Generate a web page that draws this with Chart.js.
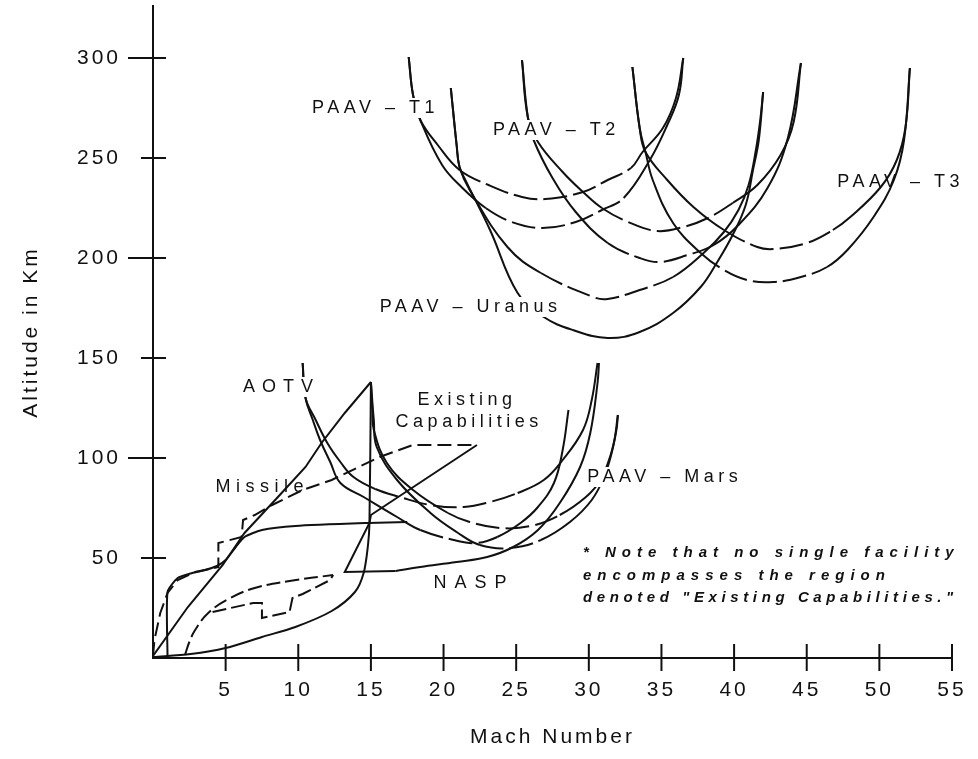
<!DOCTYPE html>
<html>
<head>
<meta charset="utf-8">
<script src="https://cdn.jsdelivr.net/npm/chart.js@4.4.0/dist/chart.umd.min.js"></script>
<style>
  html, body { margin: 0; padding: 0; background: #fff; }
  #wrap { width: 978px; height: 759px; }
</style>
</head>
<body>
<div id="wrap"><canvas id="flight_chart"></canvas></div>
<script>
// [Mach number, altitude km]
const paavT1a = [[17.6,300.5],[17.9,281.5],[18.4,269],[19.6,256.5],[21.1,244],[23.1,236.5],[25.4,230.5],[27.0,229.5],[29.6,233],[31.3,239],[32.9,245],[33.7,253],[35.1,265],[36.0,280],[36.5,300]];
const paavT1b = [[17.6,300.5],[17.9,281.5],[18.4,269],[19.9,246.5],[21.3,235],[22.9,225],[24.7,218],[26.8,215],[29.1,218],[30.9,224],[32.4,230],[34.2,249],[35.4,266.5],[36.2,281.5],[36.5,300]];
const paavT2a = [[25.4,299],[25.8,270.5],[26.5,258],[28.2,243],[29.6,233],[30.9,225],[32.7,218],[34.7,213.5],[36.5,215.5],[38.2,220],[39.9,227.5],[41.6,236.5],[43.2,251.5],[44.1,268],[44.6,297.5]];
const paavT2b = [[25.4,299],[25.8,270.5],[26.2,259],[27.5,240],[29.1,223],[31.3,207.5],[33.5,200],[34.9,198],[36.8,201.5],[38.6,206.5],[40.3,216.5],[42.3,235],[43.7,260],[44.6,297.5]];
const paavT3a = [[33.0,295.5],[33.5,265],[33.9,253],[35.4,239],[37.2,225.5],[39.3,214],[41.6,205.5],[42.7,204.5],[45.0,207.5],[46.8,214],[48.0,220.5],[50.1,235.5],[51.2,249],[51.8,265.5],[52.1,295]];
const paavT3b = [[33.0,295.5],[33.5,265],[33.9,253],[34.4,239],[35.8,217.5],[37.7,202.5],[39.3,194],[40.9,189],[42.7,188],[44.6,190.5],[46.4,195.5],[47.8,204],[49.6,220.5],[51.0,239],[51.7,259],[52.1,295]];
const uranusA = [[20.5,285],[20.9,256.5],[21.1,245.5],[21.8,234],[24.4,205.5],[26.7,192.5],[30.3,180.5],[31.3,179.5],[33.5,184],[35.8,190.5],[37.9,202.5],[39.3,213],[40.3,224],[41.0,236.5],[41.5,254],[41.8,269],[42.0,283]];
const uranusB = [[20.5,285],[20.9,256.5],[21.1,245.5],[21.5,239],[23.2,214],[25.1,182.5],[26.9,170.5],[28.9,164],[31.3,160],[33.5,163],[35.8,172.5],[37.7,185.5],[38.8,197.5],[39.9,211.5],[40.8,226.5],[41.3,244],[41.7,259],[42.0,283]];

const aotvA = [[10.3,147.5],[10.5,130],[11.2,119],[12.0,107.5],[12.9,98],[13.8,90.5],[15.3,84.5],[17.0,80.5],[19.1,76.5],[21.4,75.5],[23.2,78],[25.1,82.5],[26.9,89],[28.2,99],[29.6,114],[30.2,129],[30.6,147.5]];
const aotvB = [[10.3,147.5],[10.5,130],[11.0,119],[11.5,109],[12.2,98],[12.9,87.5],[14.5,80.5],[16.8,70.5],[18.4,64],[20.7,59],[22.3,57.5],[23.7,60.5],[25.3,67.5],[26.5,75.5],[27.6,87.5],[28.2,104],[28.6,124]];
const marsA = [[15.0,138],[15.1,124],[15.2,114],[16.1,97.5],[17.9,84],[20.3,72.5],[21.8,68],[23.9,65],[26.0,66],[28.0,71.5],[29.8,80.5],[30.8,89],[31.5,101.5],[31.9,114],[32.0,121.5]];
const marsB = [[15.0,138],[15.2,119],[15.4,105.5],[16.8,89],[19.1,72.5],[20.9,63],[22.5,56.5],[24.6,55],[26.7,59],[28.7,68],[30.2,79],[31.1,91.5],[31.7,106.5],[32.0,121.5]];
const nasp = [[16.7,43.5],[18.4,45.5],[20.9,48],[23.0,50.5],[24.8,55.5],[26.5,64],[28.0,77.5],[29.4,95.5],[30.1,112.5],[30.6,137.5],[30.7,147.5]];
const missile = [[0,1],[2.4,25.5],[4.8,46.5],[6.3,62.5],[8.6,80.5],[10.5,95.5],[11.6,107.5],[13.2,122.5],[15.0,138]];
const capsUpper = [[0,1],[0.1,9],[0.5,22.5],[1.0,32.5],[1.7,39],[2.9,43],[4.5,45.5],[4.5,57.5],[6.1,60.5],[6.2,69],[7.0,71.5],[8.2,76.5],[10.3,84],[12.3,89],[15.6,100.5],[17.9,106.5],[22.3,106.5]];
const capsEdge = [[22.3,106.5],[15.0,71.5],[14.9,67.5],[13.2,43],[16.7,43.5]];
const peakDrop = [[15.0,138],[14.9,67.5],[14.8,56.5],[14.5,42.5],[13.9,33],[12.3,23.5],[9.8,15.5],[7.5,10.5],[5.0,5],[2.6,2],[0,0.5]];
const sCurve = [[1.0,0.5],[1.0,33],[1.7,40],[2.7,42.5],[3.6,44],[4.4,46],[5.0,49],[5.7,55.5],[6.3,60.5],[7.5,64],[9.8,66],[14.8,67.5],[17.5,68]];
const lensTop = [[2.2,1.5],[2.5,8],[2.9,14],[3.8,22.5],[5.2,29.5],[7.0,35],[9.4,38.5],[12.4,41.5]];
const lensZig = [[4.1,23],[6.9,27.5],[7.5,27.5],[7.5,20],[9.4,23],[9.6,30],[10.3,32],[12.2,39],[12.4,41.5]];

const machTicks = [5, 10, 15, 20, 25, 30, 35, 40, 45, 50, 55];
const kmTicks = [50, 100, 150, 200, 250, 300];

// text placed on the plot, in Mach / km
const tags = [
  { text: 'PAAV – T1', x: 10.95, y: 275, ls: 4.5, bg: true },
  { text: 'PAAV – T2', x: 23.4, y: 264, ls: 4.5, bg: true },
  { text: 'PAAV – T3', x: 47.1, y: 238, ls: 4.5 },
  { text: 'PAAV – Uranus', x: 15.6, y: 175.5, ls: 4.5, bg: true },
  { text: 'AOTV', x: 6.2, y: 135.5, ls: 7, bg: true },
  { text: 'Existing', x: 18.2, y: 129, ls: 4.5 },
  { text: 'Capabilities', x: 16.7, y: 118, ls: 4.5 },
  { text: 'Missile', x: 4.3, y: 85.5, ls: 5.5 },
  { text: 'PAAV – Mars', x: 29.9, y: 90.5, ls: 4.5, bg: true },
  { text: 'NASP', x: 19.3, y: 37.5, ls: 8 }
];
const footnote = ['* Note that no single facility', 'encompasses the region', 'denoted "Existing Capabilities."'];
const footnoteAt = [[29.6, 52.5], [29.6, 41], [29.6, 30]];
const footnoteSpacing = [6, 6, 4.6];

const ink = '#111';
const fontFamily = '"Liberation Sans", Arial, sans-serif';

function dashBottom(data, band) {
  const low = Math.min(...data.map(p => p[1]));
  return c => (c.p0.parsed.y < low + band && c.p1.parsed.y < low + band) ? [24, 6] : undefined;
}

function curve(data, opts) {
  return Object.assign({
    data: data.map(([x, y]) => ({ x, y })),
    showLine: true,
    borderColor: ink,
    borderWidth: 2,
    pointRadius: 0,
    tension: 0.4,
    fill: false
  }, opts || {});
}

const arc = (data, band) => curve(data, { segment: { borderDash: dashBottom(data, band) } });

const axisMarks = {
  id: 'axisMarks',
  beforeDraw(chart) {
    chart.ctx.letterSpacing = '3px';
  },
  afterDatasetsDraw(chart) {
    const { ctx, scales: { x, y } } = chart;
    ctx.save();
    ctx.textBaseline = 'middle';
    ctx.textAlign = 'left';
    ctx.font = '18px ' + fontFamily;
    tags.forEach(t => {
      ctx.letterSpacing = t.ls + 'px';
      const px = x.getPixelForValue(t.x), py = y.getPixelForValue(t.y);
      if (t.bg) {
        const w = ctx.measureText(t.text).width;
        ctx.fillStyle = '#fff';
        ctx.fillRect(px - 2, py - 10, w + 2, 20);
      }
      ctx.fillStyle = ink;
      ctx.fillText(t.text, px, py);
    });
    ctx.font = 'italic bold 15px ' + fontFamily;
    footnote.forEach((line, i) => {
      ctx.letterSpacing = footnoteSpacing[i] + 'px';
      ctx.fillText(line, x.getPixelForValue(footnoteAt[i][0]), y.getPixelForValue(footnoteAt[i][1]));
    });
    ctx.restore();
  },
  afterDraw(chart) {
    const { ctx, scales: { x, y } } = chart;
    const x0 = x.getPixelForValue(0), y0 = y.getPixelForValue(0);
    ctx.save();
    ctx.strokeStyle = ink;
    ctx.lineWidth = 2;
    kmTicks.forEach(v => {
      const py = y.getPixelForValue(v);
      const longTick = v % 100 === 0;
      ctx.beginPath();
      ctx.moveTo(x0 - (longTick ? 25 : 12), py);
      ctx.lineTo(x0 + 13, py);
      ctx.stroke();
    });
    machTicks.forEach(v => {
      const px = x.getPixelForValue(v);
      ctx.beginPath();
      ctx.moveTo(px, y0 - 14);
      ctx.lineTo(px, y0 + 13);
      ctx.stroke();
    });
    ctx.restore();
  }
};

new Chart(document.getElementById('flight_chart'), {
  type: 'scatter',
  data: {
    datasets: [
      arc(paavT1a, 18), arc(paavT1b, 16),
      arc(paavT2a, 16), arc(paavT2b, 16),
      arc(paavT3a, 16), arc(paavT3b, 16),
      arc(uranusA, 16), curve(uranusB),
      arc(aotvA, 10), arc(aotvB, 8),
      arc(marsA, 8), arc(marsB, 8),
      curve(nasp),
      curve(missile, { tension: 0 }),
      curve(capsUpper, { tension: 0, borderDash: [14, 6] }),
      curve(capsEdge, { tension: 0 }),
      curve(peakDrop, { tension: 0.3 }),
      curve(sCurve, { tension: 0.2 }),
      curve(lensTop, { borderDash: [14, 5] }),
      curve(lensZig, { tension: 0, borderDash: [14, 5] })
    ]
  },
  options: {
    responsive: true,
    maintainAspectRatio: false,
    animation: false,
    layout: { padding: { top: 6, right: 26, left: 0, bottom: 0 } },
    plugins: {
      legend: { display: false },
      tooltip: { enabled: false }
    },
    scales: {
      x: {
        type: 'linear',
        min: 0,
        max: 55,
        afterFit(s) { s.height = 101; s.paddingLeft = 0; s.paddingRight = 0; },
        ticks: {
          stepSize: 5,
          autoSkip: false,
          maxRotation: 0,
          padding: 20,
          color: ink,
          font: { family: fontFamily, size: 21 },
          callback: v => machTicks.includes(v) ? v : ''
        },
        grid: { display: false, drawTicks: false },
        border: { display: true, color: ink, width: 2 },
        title: {
          display: true,
          text: 'Mach Number',
          color: ink,
          font: { family: fontFamily, size: 21 },
          padding: { top: 0, bottom: 9 }
        }
      },
      y: {
        type: 'linear',
        min: 0,
        max: 326,
        afterFit(s) { s.width = 153; s.paddingTop = 0; s.paddingBottom = 0; },
        ticks: {
          stepSize: 50,
          autoSkip: false,
          padding: 32,
          color: ink,
          font: { family: fontFamily, size: 21 },
          callback: v => kmTicks.includes(v) ? v : ''
        },
        grid: { display: false, drawTicks: false },
        border: { display: true, color: ink, width: 2 },
        title: {
          display: true,
          text: 'Altitude in Km',
          color: ink,
          font: { family: fontFamily, size: 21 },
          padding: { top: 19, bottom: 0 }
        }
      }
    }
  },
  plugins: [axisMarks]
});
</script>
</body>
</html>
